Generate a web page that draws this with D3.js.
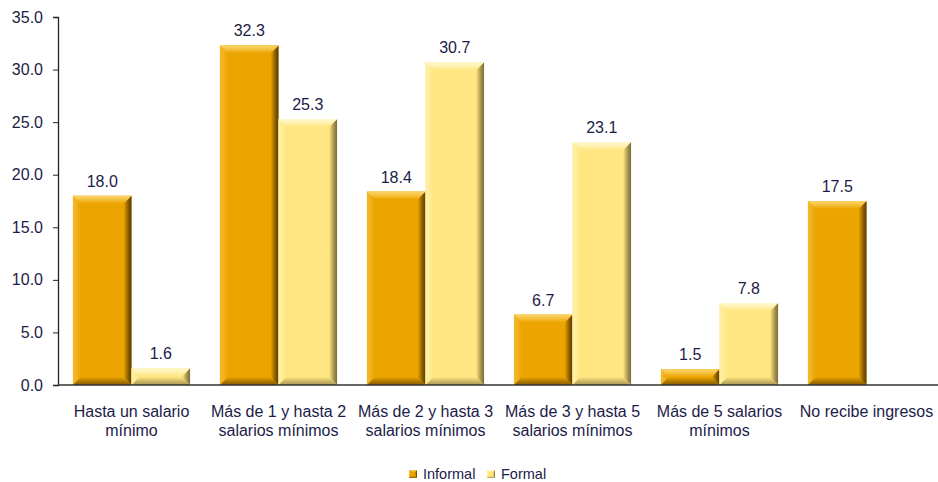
<!DOCTYPE html>
<html>
<head>
<meta charset="utf-8">
<script src="https://cdn.jsdelivr.net/npm/d3@7/dist/d3.min.js"></script>
<style>
  body { margin: 0; background: #fff; }
  svg text { font-family: "Liberation Sans", Arial, sans-serif; fill: #1c1c48; }
</style>
</head>
<body>
<svg id="chart" width="938" height="482"></svg>
<script>
var categories = [
    ["Hasta un salario", "mínimo"],
    ["Más de 1 y hasta 2", "salarios mínimos"],
    ["Más de 2 y hasta 3", "salarios mínimos"],
    ["Más de 3 y hasta 5", "salarios mínimos"],
    ["Más de 5 salarios", "mínimos"],
    ["No recibe ingresos"]
];
var seriesNames = ["Informal", "Formal"];
var informal = [18.0, 32.3, 18.4, 6.7, 1.5, 17.5];
var formal = [1.6, 25.3, 30.7, 23.1, 7.8, null];
var yTicks = [0, 5, 10, 15, 20, 25, 30, 35];

// base, light edge, dark edge
var palette = {
    Informal: { base: "#eca400", top: "#fbd466", left: "#f4b92c", right: "#5e3f00", bottom: "#8c6000" },
    Formal:   { base: "#ffe680", top: "#fff8d0", left: "#fff0a8", right: "#7e6f3a", bottom: "#b09c58" }
};

var svg = d3.select("#chart");
var defs = svg.append("defs");
var margin = { left: 58, top: 17, right: 0, bottom: 97 };
var W = 938, H = 482;

// gradients for the bevel edges
seriesNames.forEach(function (s) {
    var c = palette[s];
    var specs = [
        ["top", 0, 0, 0, 1, c.top, c.base],
        ["left", 0, 0, 1, 0, c.left, c.base],
        ["right", 1, 0, 0, 0, c.right, c.base],
        ["bottom", 0, 1, 0, 0, c.bottom, c.base]
    ];
    specs.forEach(function (sp) {
        var gr = defs.append("linearGradient").attr("id", s + "-" + sp[0])
            .attr("x1", sp[1]).attr("y1", sp[2]).attr("x2", sp[3]).attr("y2", sp[4]);
        gr.append("stop").attr("offset", 0).attr("stop-color", sp[5]);
        gr.append("stop").attr("offset", 0.35).attr("stop-color", d3.interpolateRgb(sp[5], sp[6])(0.25));
        gr.append("stop").attr("offset", 1).attr("stop-color", sp[6]);
    });
});

var x0 = d3.scaleBand()
    .domain(d3.range(categories.length))
    .range([margin.left, margin.left + 147 * categories.length])
    .paddingInner(0).paddingOuter(0);
var x1 = d3.scaleBand()
    .domain(seriesNames)
    .range([0, x0.bandwidth()])
    .paddingInner(0).paddingOuter(0.255);
var y = d3.scaleLinear().domain([0, 35]).range([H - margin.bottom, margin.top]);

// y axis
var yAxis = svg.append("g")
    .attr("transform", "translate(" + margin.left + ",0)")
    .call(d3.axisLeft(y).tickValues(yTicks).tickSize(5).tickPadding(10)
        .tickFormat(d3.format(".1f")));
yAxis.select(".domain").attr("stroke", "#222").attr("stroke-width", 1.3);
yAxis.selectAll(".tick line").attr("stroke", "#222");
yAxis.selectAll("text").style("font-size", "16px").attr("fill", "#1c1c48");

// bars
var rows = [];
categories.forEach(function (c, i) {
    rows.push({ cat: i, s: "Informal", v: informal[i] });
    if (formal[i] != null) rows.push({ cat: i, s: "Formal", v: formal[i] });
});

function bevelBar(g, x, yTop, w, h, s, size) {
    var b = Math.min(size, h / 2, w / 2);
    var x2 = x + w, y2 = yTop + h;
    var pts = function (a) { return a.map(function (p) { return p.join(","); }).join(" "); };
    g.append("rect").attr("x", x).attr("y", yTop).attr("width", w).attr("height", h).attr("fill", palette[s].base);
    g.append("polygon").attr("points", pts([[x, yTop], [x + b, yTop + b], [x + b, y2 - b], [x, y2]]))
        .attr("fill", "url(#" + s + "-left)");
    g.append("polygon").attr("points", pts([[x2, yTop], [x2, y2], [x2 - b, y2 - b], [x2 - b, yTop + b]]))
        .attr("fill", "url(#" + s + "-right)");
    g.append("polygon").attr("points", pts([[x, yTop], [x2, yTop], [x2 - b, yTop + b], [x + b, yTop + b]]))
        .attr("fill", "url(#" + s + "-top)");
    g.append("polygon").attr("points", pts([[x, y2], [x + b, y2 - b], [x2 - b, y2 - b], [x2, y2]]))
        .attr("fill", "url(#" + s + "-bottom)");
}

var bars = svg.append("g");
rows.forEach(function (d) {
    var bx = x0(d.cat) + x1(d.s);
    var by = y(d.v);
    bevelBar(bars.append("g"), bx, by, x1.bandwidth(), y(0) - by, d.s, 8);
    svg.append("text")
        .attr("x", bx + x1.bandwidth() / 2)
        .attr("y", by - 9)
        .attr("text-anchor", "middle")
        .style("font-size", "16px")
        .text(d3.format(".1f")(d.v));
});

// x axis line
svg.append("line")
    .attr("x1", margin.left).attr("x2", W)
    .attr("y1", y(0)).attr("y2", y(0))
    .attr("stroke", "#333").attr("stroke-width", 1.5);

// category labels
categories.forEach(function (lines, i) {
    var cx = x0(i) + x0.bandwidth() / 2;
    var t = svg.append("text")
        .attr("x", cx)
        .attr("y", 417)
        .attr("text-anchor", "middle")
        .style("font-size", "16px");
    lines.forEach(function (l, k) {
        t.append("tspan").attr("x", cx).attr("dy", k ? 19 : 0).text(l);
    });
});

// legend
var legend = svg.append("g").attr("transform", "translate(409,474)");
var lx = [0, 78];
seriesNames.forEach(function (s, i) {
    var g = legend.append("g").attr("transform", "translate(" + lx[i] + ",0)");
    bevelBar(g, 0, -4, 8, 8, s, 2);
    g.append("text").attr("x", 14).attr("y", 5).style("font-size", "14.5px").text(s);
});
</script>
</body>
</html>
